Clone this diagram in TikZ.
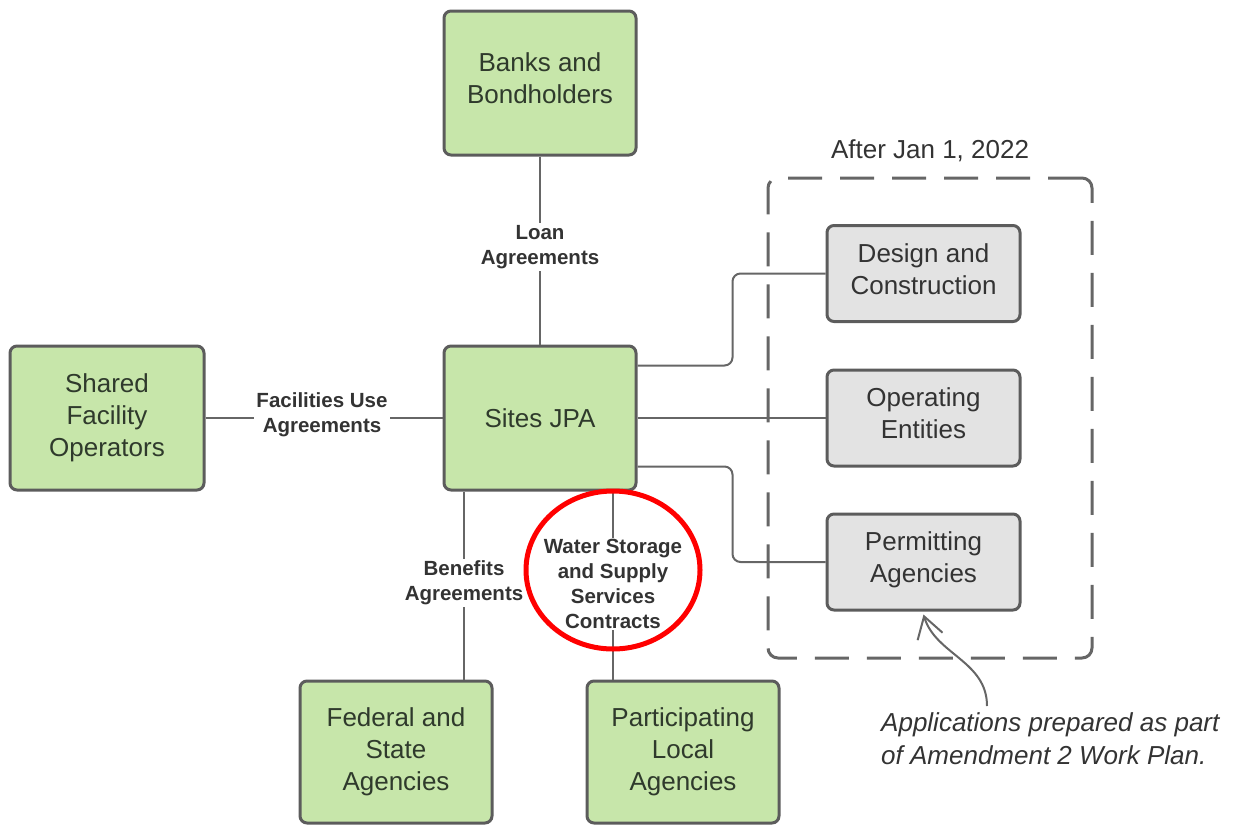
\documentclass[tikz,border=0pt]{standalone}
\usepackage{fontspec}
\setmainfont{Liberation Sans}
\usetikzlibrary{arrows.meta,calc}
\definecolor{boxgreen}{HTML}{C7E6AA}
\definecolor{boxgray}{HTML}{E3E3E3}
\definecolor{edge}{HTML}{5C5C5C}
\definecolor{linec}{HTML}{666666}
\definecolor{txt}{HTML}{333333}
\definecolor{gtxt}{HTML}{2F3A2C}
\tikzset{
  gbox/.style={draw=edge, line width=3pt, fill=boxgreen, rounded corners=7pt,
    minimum width=192pt, minimum height=144pt, inner sep=0pt, align=center,
    text=gtxt, font=\fontsize{26}{32}\selectfont},
  graybox/.style={draw=edge, line width=3pt, fill=boxgray, rounded corners=7pt,
    minimum width=193pt, minimum height=96pt, inner sep=0pt, align=center,
    text=txt, font=\fontsize{26}{32}\selectfont},
  conn/.style={draw=linec, line width=2pt},
  lbl/.style={fill=white, inner sep=2pt, align=center, text=txt,
    font=\bfseries\fontsize{20.5}{25}\selectfont}
}
\begin{document}
\begin{tikzpicture}[x=1pt,y=-1pt]
\useasboundingbox (0,0) rectangle (1236,825);
% dashed group
\node[draw=linec, line width=3pt, dash pattern=on 34pt off 18pt, rounded corners=10pt,
  minimum width=324pt, minimum height=480pt, inner sep=0pt] (grp) at (930,418) {};
\node[text=txt, font=\fontsize{26}{32}\selectfont, anchor=south] (grptitle) at (930,165) {After Jan 1, 2022};
% boxes
\node[gbox] (banks) at (540,83) {Banks and\\Bondholders\strut};
\node[gbox] (sites) at (540,418) {Sites JPA};
\node[gbox, minimum width=194pt] (shared) at (107,418) {Shared\\Facility\\Operators};
\node[gbox, minimum height=142pt] (federal) at (396,752) {Federal and\\State\\Agencies};
\node[gbox, minimum height=142pt] (local) at (683,752) {Participating\\Local\\Agencies};
\node[graybox] (design) at (923.5,273.5) {Design and\\Construction\strut};
\node[graybox] (oper) at (923.5,418) {Operating\\Entities\strut};
\node[graybox] (perm) at (923.5,562) {Permitting\\Agencies\strut};
% connectors
\draw[conn] (banks.south) -- (sites.north);
\draw[conn] (shared.east) -- (sites.west);
\draw[conn] (sites.east) -- (oper.west);
\draw[conn, rounded corners=8pt] ([yshift=-21pt]sites.north east) -- ++(95,0) |- (design.west);
\draw[conn, rounded corners=8pt] ([yshift=25pt]sites.south east) -- ++(95,0) |- (perm.west);
\draw[conn] ([xshift=-76pt]sites.south) -- ([xshift=-76pt]sites.south |- federal.north);
\draw[conn] ([xshift=73pt]sites.south) -- ([xshift=73pt]sites.south |- local.north);
% labels
\node[lbl] (lloan) at (540,247) {Loan\\Agreements};
\node[lbl] (lfac) at (322,415) {Facilities Use\\Agreements};
\node[lbl] (lben) at (464,583) {Benefits\\Agreements};
\node[lbl, inner sep=1pt] (lwater) at (613,584) {Water Storage\\and Supply\\Services\\Contracts};
% red highlight
\draw[red, line width=5pt] (613,570) ellipse [x radius=87pt, y radius=79pt];
% annotation
\node[anchor=north west, align=left, text=txt, inner sep=0pt,
  font=\itshape\fontsize{26}{33}\selectfont] (note) at (881,712)
  {Applications prepared as part\\of Amendment 2 Work Plan.};
\coordinate (notetop) at ([xshift=106pt,yshift=6pt]note.north west);
\draw[draw=linec, line width=2pt, -{Straight Barb[length=21pt,width=26pt]}]
  (notetop) .. controls +(0,-45) and +(12,40) .. ([yshift=-3pt]perm.south);
\end{tikzpicture}
\end{document}
